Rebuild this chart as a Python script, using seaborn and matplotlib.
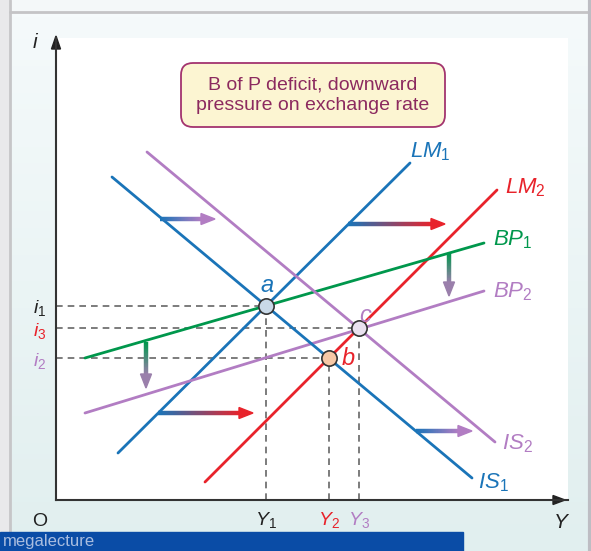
import numpy as np
import pandas as pd
import matplotlib
matplotlib.use("Agg")
import matplotlib.pyplot as plt
from matplotlib.collections import LineCollection
from matplotlib.patches import FancyBboxPatch, Polygon, Rectangle
from matplotlib.colors import to_rgb
import seaborn as sns

BLUE = "#1a74b8"
RED = "#e8232b"
GREEN = "#00974c"
PURPLE = "#b27dc3"
GREYPURPLE = "#9a7fab"

# curves: endpoints in (Y, i) units measured from the origin O
curve_names = ["LM1", "LM2", "BP1", "BP2", "IS1", "IS2"]
curve_x0 = [62, 149, 29, 29, 56, 91]
curve_y0 = [47, 18, 142, 87, 323, 348]
curve_x1 = [354, 441, 428, 428, 416, 439]
curve_y1 = [337, 310, 257, 209, 22, 58]
curve_colors = [BLUE, RED, GREEN, PURPLE, BLUE, PURPLE]
curve_labels = [r"$LM_1$", r"$LM_2$", r"$BP_1$", r"$BP_2$", r"$IS_1$", r"$IS_2$"]
label_x = [354, 449, 437, 437, 422, 446]
label_y = [348, 312, 260, 208, 17, 56]

# equilibrium points: (name, curve A, curve B)
points = [("a", "LM1", "IS1"), ("b", "LM2", "IS1"), ("c", "LM2", "IS2")]
point_fill = ["#c9d9e8", "#f7c8a6", "#e9e1ef"]
point_text_color = [BLUE, RED, PURPLE]
point_text_dx = [1, 19, 7]
point_text_dy = [20, -1, 12]
xtick_labels = [r"$Y_1$", r"$Y_2$", r"$Y_3$"]
xtick_colors = ["#222222", RED, PURPLE]
ytick_labels = [r"$i_1$", r"$i_2$", r"$i_3$"]
ytick_colors = ["#222222", PURPLE, RED]

# shift arrows
shift_x0 = [104, 360, 292, 102, 90, 393]
shift_y0 = [281, 69, 276, 87, 158, 247]
shift_x1 = [159, 416, 389, 197, 90, 393]
shift_y1 = [281, 69, 276, 87, 112, 204]
shift_c0 = [BLUE, BLUE, BLUE, BLUE, GREEN, GREEN]
shift_c1 = [PURPLE, PURPLE, RED, RED, GREYPURPLE, GREYPURPLE]

box_text = "B of P deficit, downward\npressure on exchange rate"

sns.set_theme(style="white")
plt.rcParams["font.family"] = ["Liberation Sans", "DejaVu Sans"]
plt.rcParams["mathtext.fontset"] = "custom"
plt.rcParams["mathtext.rm"] = "Liberation Sans"
plt.rcParams["mathtext.it"] = "Liberation Sans:italic"

W, H = 591, 551
fig = plt.figure(figsize=(W / 100, H / 100), dpi=100)

# background frame
bg = fig.add_axes([0, 0, 1, 1])
bg.axis("off")
bg.add_patch(Rectangle((0, 0), W, H, color="#e9e9eb"))
grad = np.linspace(0, 1, 100)[:, None]
c_top, c_bot = np.array(to_rgb("#f5fafb")), np.array(to_rgb("#e1efef"))
img = c_top[None, None, :] * (1 - grad[:, :, None]) + c_bot[None, None, :] * grad[:, :, None]
bg.imshow(img, extent=(10, 588, H, 12), aspect="auto", zorder=1)
bg.add_patch(Rectangle((10, 0), 578, 11, color="#f4f8f9", zorder=1))
bg.plot([9.5, 9.5], [0, H], color="#c6c6c8", lw=2, zorder=2)
bg.plot([10, W], [11.5, 11.5], color="#c4c4c6", lw=2, zorder=2)
bg.plot([589.5, 589.5], [0, H], color="#bdbdc3", lw=3, zorder=2)
bg.add_patch(Rectangle((0, 532), 463, 19, color="#0a4ca6", zorder=3))
bg.text(3, 546, "megalecture", fontsize=12, color="#a9bde0", zorder=4)
bg.set_xlim(0, W)
bg.set_ylim(H, 0)

# main diagram
ox, oy = 56, 500
ax = fig.add_axes([ox / W, (H - oy) / H, 512 / W, 462 / H])
ax.set_facecolor("white")
for s in ["top", "right"]:
    ax.spines[s].set_visible(False)
for s in ["left", "bottom"]:
    ax.spines[s].set_color("#333333")
    ax.spines[s].set_linewidth(1.5)

# axis arrowheads
ax.add_patch(Polygon([[509, 0], [497, 4.5], [497, -4.5]], closed=True, color="#222222", clip_on=False))
ax.add_patch(Polygon([[0, 464], [-4.5, 451], [4.5, 451]], closed=True, color="#222222", clip_on=False))

rows = []
for n, x0, y0, x1, y1 in zip(curve_names, curve_x0, curve_y0, curve_x1, curve_y1):
    rows.append({"curve": n, "Y": x0, "i": y0})
    rows.append({"curve": n, "Y": x1, "i": y1})
df = pd.DataFrame(rows)


def intersect(n1, n2):
    k1, k2 = curve_names.index(n1), curve_names.index(n2)
    m1 = (curve_y1[k1] - curve_y0[k1]) / (curve_x1[k1] - curve_x0[k1])
    m2 = (curve_y1[k2] - curve_y0[k2]) / (curve_x1[k2] - curve_x0[k2])
    b1 = curve_y0[k1] - m1 * curve_x0[k1]
    b2 = curve_y0[k2] - m2 * curve_x0[k2]
    x = (b2 - b1) / (m1 - m2)
    return x, m1 * x + b1


eq = [intersect(p[1], p[2]) for p in points]

# dashed guides
for x, y in eq:
    ax.plot([0, x], [y, y], color="#666666", lw=1.2, dashes=(4, 3), zorder=1)
    ax.plot([x, x], [0, y], color="#666666", lw=1.2, dashes=(4, 3), zorder=1)

sns.lineplot(data=df, x="Y", y="i", hue="curve", units="curve", estimator=None,
             palette=dict(zip(curve_names, curve_colors)), lw=2.0, legend=False,
             ax=ax, zorder=3)
ax.set_xlabel("")
ax.set_ylabel("")

for lab, lx, ly, c in zip(curve_labels, label_x, label_y, curve_colors):
    ax.text(lx, ly, lab, color=c, fontsize=16, ha="left", va="center")

# shift arrows with colour gradient
for x0, y0, x1, y1, c0, c1 in zip(shift_x0, shift_y0, shift_x1, shift_y1, shift_c0, shift_c1):
    d = np.array([x1 - x0, y1 - y0], float)
    u = d / np.hypot(*d)
    perp = np.array([-u[1], u[0]])
    hl, hw = 14, 5.5
    base = np.array([x1, y1]) - u * hl
    t = np.linspace(0, 1, 40)
    px = x0 + (base[0] - x0) * t
    py = y0 + (base[1] - y0) * t
    segs = np.stack([np.column_stack([px[:-1], py[:-1]]), np.column_stack([px[1:], py[1:]])], axis=1)
    ca, cb = np.array(to_rgb(c0)), np.array(to_rgb(c1))
    cols = ca[None, :] * (1 - t[:-1, None]) + cb[None, :] * t[:-1, None]
    ax.add_collection(LineCollection(segs, colors=cols, linewidths=3.2, zorder=4, capstyle="butt"))
    head = [[x1, y1], base + perp * hw, base - perp * hw]
    ax.add_patch(Polygon(head, closed=True, color=c1, zorder=4))

# equilibrium points
for (name, _, _), (x, y), fc, tc, dx, dy in zip(points, eq, point_fill, point_text_color,
                                                 point_text_dx, point_text_dy):
    ax.plot(x, y, "o", ms=11, mfc=fc, mec="#333333", mew=1.2, zorder=6)
    ax.text(x + dx, y + dy, f"${name}$", color=tc, fontsize=17, ha="center", va="center", zorder=6)

# ticks
ax.set_xticks([e[0] for e in eq])
ax.set_xticklabels(xtick_labels, fontsize=14)
ax.set_yticks([e[1] for e in eq])
ax.set_yticklabels(ytick_labels, fontsize=14)
ax.tick_params(length=0, pad=7)
for lbl, c in zip(ax.get_xticklabels(), xtick_colors):
    lbl.set_color(c)
for lbl, c in zip(ax.get_yticklabels(), ytick_colors):
    lbl.set_color(c)
ax.set_xlim(0, 512)
ax.set_ylim(0, 462)

ax.text(-16, -22, "O", fontsize=14, color="#222222", ha="center", va="center", clip_on=False)
ax.text(506, -22, "$Y$", fontsize=15, color="#222222", ha="center", va="center", clip_on=False)
ax.text(-20, 458, "$i$", fontsize=15, color="#222222", ha="center", va="center", clip_on=False)

# info box
ax.add_patch(FancyBboxPatch((125, 373), 264, 64, boxstyle="round,pad=0,rounding_size=12",
                            fc="#fcf5d2", ec="#a3346f", lw=1.3, zorder=5))
ax.text(257, 405, box_text, color="#8c2a5f", fontsize=14, ha="center", va="center",
        linespacing=1.25, zorder=6)

fig.savefig("out.png", dpi=100)
